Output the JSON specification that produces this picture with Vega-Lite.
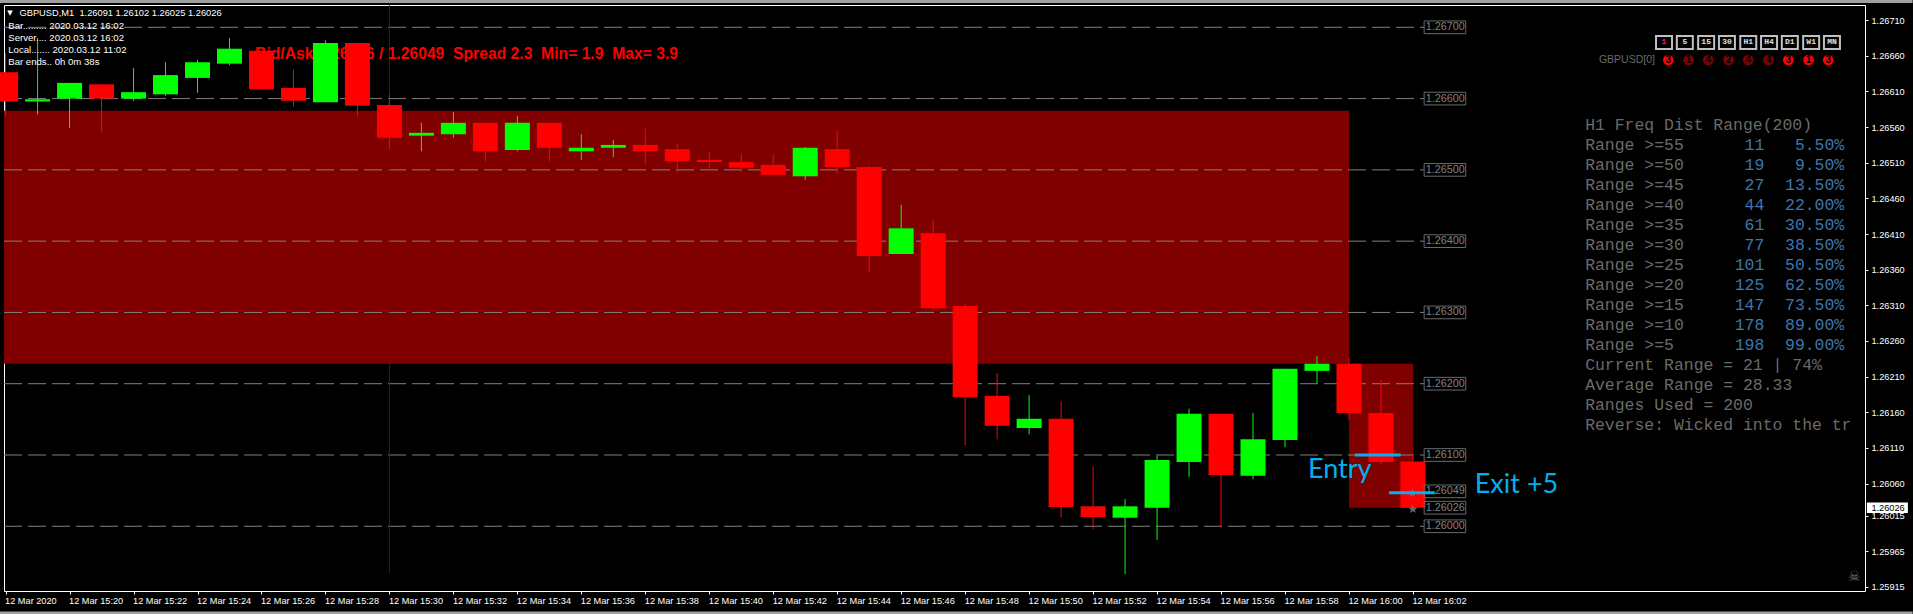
{
"$schema":"https://vega.github.io/schema/vega-lite/v6.json",
"width":1861,"height":586,
"autosize":{"type":"none"},
"padding":{"left":4,"top":5,"right":48,"bottom":23},
"background":"#000000",
"config":{"view":{"stroke":"#ffffff","strokeWidth":1},"text":{"font":"Liberation Sans"}},
"datasets":{
"candles":[
{"t":"2020-03-12T15:18:00Z","o":1.26637,"h":1.26664,"l":1.26576,"c":1.26596,"dir":"down"},
{"t":"2020-03-12T15:19:00Z","o":1.26596,"h":1.26685,"l":1.26578,"c":1.26599,"dir":"up"},
{"t":"2020-03-12T15:20:00Z","o":1.26600,"h":1.26622,"l":1.26559,"c":1.26622,"dir":"up"},
{"t":"2020-03-12T15:21:00Z","o":1.26620,"h":1.26620,"l":1.26553,"c":1.26600,"dir":"down"},
{"t":"2020-03-12T15:22:00Z","o":1.26600,"h":1.26643,"l":1.26597,"c":1.26609,"dir":"up"},
{"t":"2020-03-12T15:23:00Z","o":1.26606,"h":1.26651,"l":1.26604,"c":1.26633,"dir":"up"},
{"t":"2020-03-12T15:24:00Z","o":1.26629,"h":1.26654,"l":1.26608,"c":1.26651,"dir":"up"},
{"t":"2020-03-12T15:25:00Z","o":1.26649,"h":1.26685,"l":1.26647,"c":1.26670,"dir":"up"},
{"t":"2020-03-12T15:26:00Z","o":1.26667,"h":1.26667,"l":1.26613,"c":1.26613,"dir":"down"},
{"t":"2020-03-12T15:27:00Z","o":1.26615,"h":1.26641,"l":1.26589,"c":1.26597,"dir":"down"},
{"t":"2020-03-12T15:28:00Z","o":1.26595,"h":1.26682,"l":1.26595,"c":1.26678,"dir":"up"},
{"t":"2020-03-12T15:29:00Z","o":1.26678,"h":1.26678,"l":1.26575,"c":1.26590,"dir":"down"},
{"t":"2020-03-12T15:30:00Z","o":1.26591,"h":1.26605,"l":1.26529,"c":1.26545,"dir":"down"},
{"t":"2020-03-12T15:31:00Z","o":1.26548,"h":1.26566,"l":1.26526,"c":1.26552,"dir":"up"},
{"t":"2020-03-12T15:32:00Z","o":1.26550,"h":1.26581,"l":1.26545,"c":1.26566,"dir":"up"},
{"t":"2020-03-12T15:33:00Z","o":1.26566,"h":1.26566,"l":1.26512,"c":1.26526,"dir":"down"},
{"t":"2020-03-12T15:34:00Z","o":1.26528,"h":1.26576,"l":1.26526,"c":1.26566,"dir":"up"},
{"t":"2020-03-12T15:35:00Z","o":1.26566,"h":1.26566,"l":1.26512,"c":1.26531,"dir":"down"},
{"t":"2020-03-12T15:36:00Z","o":1.26526,"h":1.26550,"l":1.26514,"c":1.26531,"dir":"up"},
{"t":"2020-03-12T15:37:00Z","o":1.26531,"h":1.26542,"l":1.26518,"c":1.26535,"dir":"up"},
{"t":"2020-03-12T15:38:00Z","o":1.26535,"h":1.26558,"l":1.26508,"c":1.26526,"dir":"down"},
{"t":"2020-03-12T15:39:00Z","o":1.26529,"h":1.26536,"l":1.26497,"c":1.26512,"dir":"down"},
{"t":"2020-03-12T15:40:00Z","o":1.26514,"h":1.26525,"l":1.26498,"c":1.26511,"dir":"down"},
{"t":"2020-03-12T15:41:00Z","o":1.26511,"h":1.26523,"l":1.26497,"c":1.26503,"dir":"down"},
{"t":"2020-03-12T15:42:00Z","o":1.26507,"h":1.26521,"l":1.26493,"c":1.26493,"dir":"down"},
{"t":"2020-03-12T15:43:00Z","o":1.26491,"h":1.26532,"l":1.26486,"c":1.26531,"dir":"up"},
{"t":"2020-03-12T15:44:00Z","o":1.26529,"h":1.26555,"l":1.26494,"c":1.26504,"dir":"down"},
{"t":"2020-03-12T15:45:00Z","o":1.26504,"h":1.26506,"l":1.26357,"c":1.26379,"dir":"down"},
{"t":"2020-03-12T15:46:00Z","o":1.26382,"h":1.26451,"l":1.26382,"c":1.26418,"dir":"up"},
{"t":"2020-03-12T15:47:00Z","o":1.26411,"h":1.26430,"l":1.26303,"c":1.26306,"dir":"down"},
{"t":"2020-03-12T15:48:00Z","o":1.26309,"h":1.26312,"l":1.26114,"c":1.26181,"dir":"down"},
{"t":"2020-03-12T15:49:00Z","o":1.26183,"h":1.26215,"l":1.26122,"c":1.26141,"dir":"down"},
{"t":"2020-03-12T15:50:00Z","o":1.26138,"h":1.26184,"l":1.26129,"c":1.26151,"dir":"up"},
{"t":"2020-03-12T15:51:00Z","o":1.26151,"h":1.26176,"l":1.26013,"c":1.26027,"dir":"down"},
{"t":"2020-03-12T15:52:00Z","o":1.26028,"h":1.26084,"l":1.25996,"c":1.26013,"dir":"down"},
{"t":"2020-03-12T15:53:00Z","o":1.26012,"h":1.26038,"l":1.25933,"c":1.26028,"dir":"up"},
{"t":"2020-03-12T15:54:00Z","o":1.26026,"h":1.26099,"l":1.25981,"c":1.26093,"dir":"up"},
{"t":"2020-03-12T15:55:00Z","o":1.26090,"h":1.26165,"l":1.26069,"c":1.26158,"dir":"up"},
{"t":"2020-03-12T15:56:00Z","o":1.26158,"h":1.26158,"l":1.25998,"c":1.26072,"dir":"down"},
{"t":"2020-03-12T15:57:00Z","o":1.26071,"h":1.26159,"l":1.26066,"c":1.26122,"dir":"up"},
{"t":"2020-03-12T15:58:00Z","o":1.26121,"h":1.26221,"l":1.26111,"c":1.26221,"dir":"up"},
{"t":"2020-03-12T15:59:00Z","o":1.26218,"h":1.26239,"l":1.26201,"c":1.26228,"dir":"up"},
{"t":"2020-03-12T16:00:00Z","o":1.26228,"h":1.26236,"l":1.26149,"c":1.26159,"dir":"down"},
{"t":"2020-03-12T16:01:00Z","o":1.26159,"h":1.26205,"l":1.26087,"c":1.26090,"dir":"down"},
{"t":"2020-03-12T16:02:00Z","o":1.26091,"h":1.26102,"l":1.26025,"c":1.26026,"dir":"down"}
],
"zones":[
{"t":"2020-03-12T15:17:57Z","t2":"2020-03-12T16:00:00Z","p":1.26583,"p2":1.26228},
{"t":"2020-03-12T16:00:00Z","t2":"2020-03-12T16:02:00Z","p":1.26228,"p2":1.26026}
],
"grid":[
{"t":"2020-03-12T15:17:57Z","t2":"2020-03-12T16:02:21Z","p":1.26},
{"t":"2020-03-12T15:17:57Z","t2":"2020-03-12T16:02:21Z","p":1.261},
{"t":"2020-03-12T15:17:57Z","t2":"2020-03-12T16:02:21Z","p":1.262},
{"t":"2020-03-12T15:17:57Z","t2":"2020-03-12T16:02:21Z","p":1.263},
{"t":"2020-03-12T15:17:57Z","t2":"2020-03-12T16:02:21Z","p":1.264},
{"t":"2020-03-12T15:17:57Z","t2":"2020-03-12T16:02:21Z","p":1.265},
{"t":"2020-03-12T15:17:57Z","t2":"2020-03-12T16:02:21Z","p":1.266},
{"t":"2020-03-12T15:17:57Z","t2":"2020-03-12T16:02:21Z","p":1.267}
],
"boxes":[
{"t":"2020-03-12T16:02:21Z","t2":"2020-03-12T16:03:39Z","tx":"2020-03-12T16:02:24Z","m":1.26,"p":1.260089,"p2":1.259911,"text":"1.26000"},
{"t":"2020-03-12T16:02:21Z","t2":"2020-03-12T16:03:39Z","tx":"2020-03-12T16:02:24Z","m":1.26026,"p":1.260349,"p2":1.260171,"text":"1.26026"},
{"t":"2020-03-12T16:02:21Z","t2":"2020-03-12T16:03:39Z","tx":"2020-03-12T16:02:24Z","m":1.26049,"p":1.260579,"p2":1.260401,"text":"1.26049"},
{"t":"2020-03-12T16:02:21Z","t2":"2020-03-12T16:03:39Z","tx":"2020-03-12T16:02:24Z","m":1.261,"p":1.261089,"p2":1.260911,"text":"1.26100"},
{"t":"2020-03-12T16:02:21Z","t2":"2020-03-12T16:03:39Z","tx":"2020-03-12T16:02:24Z","m":1.262,"p":1.262089,"p2":1.261911,"text":"1.26200"},
{"t":"2020-03-12T16:02:21Z","t2":"2020-03-12T16:03:39Z","tx":"2020-03-12T16:02:24Z","m":1.263,"p":1.263089,"p2":1.262911,"text":"1.26300"},
{"t":"2020-03-12T16:02:21Z","t2":"2020-03-12T16:03:39Z","tx":"2020-03-12T16:02:24Z","m":1.264,"p":1.264089,"p2":1.263911,"text":"1.26400"},
{"t":"2020-03-12T16:02:21Z","t2":"2020-03-12T16:03:39Z","tx":"2020-03-12T16:02:24Z","m":1.265,"p":1.265089,"p2":1.264911,"text":"1.26500"},
{"t":"2020-03-12T16:02:21Z","t2":"2020-03-12T16:03:39Z","tx":"2020-03-12T16:02:24Z","m":1.266,"p":1.266089,"p2":1.265911,"text":"1.26600"},
{"t":"2020-03-12T16:02:21Z","t2":"2020-03-12T16:03:39Z","tx":"2020-03-12T16:02:24Z","m":1.267,"p":1.267089,"p2":1.266911,"text":"1.26700"}
],
"panelText":[
{"t":"2020-03-12T16:07:23Z","p":1.265634,"text":"H1 Freq Dist Range(200)"},
{"t":"2020-03-12T16:07:23Z","p":1.265353,"text":"Range >=55"},
{"t":"2020-03-12T16:07:23Z","p":1.265073,"text":"Range >=50"},
{"t":"2020-03-12T16:07:23Z","p":1.264792,"text":"Range >=45"},
{"t":"2020-03-12T16:07:23Z","p":1.264512,"text":"Range >=40"},
{"t":"2020-03-12T16:07:23Z","p":1.264231,"text":"Range >=35"},
{"t":"2020-03-12T16:07:23Z","p":1.263951,"text":"Range >=30"},
{"t":"2020-03-12T16:07:23Z","p":1.26367,"text":"Range >=25"},
{"t":"2020-03-12T16:07:23Z","p":1.26339,"text":"Range >=20"},
{"t":"2020-03-12T16:07:23Z","p":1.263109,"text":"Range >=15"},
{"t":"2020-03-12T16:07:23Z","p":1.262828,"text":"Range >=10"},
{"t":"2020-03-12T16:07:23Z","p":1.262548,"text":"Range >=5"},
{"t":"2020-03-12T16:07:23Z","p":1.262267,"text":"Current Range = 21 | 74%"},
{"t":"2020-03-12T16:07:23Z","p":1.261987,"text":"Average Range = 28.33"},
{"t":"2020-03-12T16:07:23Z","p":1.261706,"text":"Ranges Used = 200"},
{"t":"2020-03-12T16:07:23Z","p":1.261426,"text":"Reverse: Wicked into the tr"}
],
"panelCounts":[
{"t":"2020-03-12T16:12:59Z","p":1.265353,"text":"11"},
{"t":"2020-03-12T16:12:59Z","p":1.265073,"text":"19"},
{"t":"2020-03-12T16:12:59Z","p":1.264792,"text":"27"},
{"t":"2020-03-12T16:12:59Z","p":1.264512,"text":"44"},
{"t":"2020-03-12T16:12:59Z","p":1.264231,"text":"61"},
{"t":"2020-03-12T16:12:59Z","p":1.263951,"text":"77"},
{"t":"2020-03-12T16:12:59Z","p":1.26367,"text":"101"},
{"t":"2020-03-12T16:12:59Z","p":1.26339,"text":"125"},
{"t":"2020-03-12T16:12:59Z","p":1.263109,"text":"147"},
{"t":"2020-03-12T16:12:59Z","p":1.262828,"text":"178"},
{"t":"2020-03-12T16:12:59Z","p":1.262548,"text":"198"}
],
"panelPcts":[
{"t":"2020-03-12T16:15:29Z","p":1.265353,"text":"5.50%"},
{"t":"2020-03-12T16:15:29Z","p":1.265073,"text":"9.50%"},
{"t":"2020-03-12T16:15:29Z","p":1.264792,"text":"13.50%"},
{"t":"2020-03-12T16:15:29Z","p":1.264512,"text":"22.00%"},
{"t":"2020-03-12T16:15:29Z","p":1.264231,"text":"30.50%"},
{"t":"2020-03-12T16:15:29Z","p":1.263951,"text":"38.50%"},
{"t":"2020-03-12T16:15:29Z","p":1.26367,"text":"50.50%"},
{"t":"2020-03-12T16:15:29Z","p":1.26339,"text":"62.50%"},
{"t":"2020-03-12T16:15:29Z","p":1.263109,"text":"73.50%"},
{"t":"2020-03-12T16:15:29Z","p":1.262828,"text":"89.00%"},
{"t":"2020-03-12T16:15:29Z","p":1.262548,"text":"99.00%"}
],
"timeframes":[
{"t":"2020-03-12T16:09:36Z","t2":"2020-03-12T16:10:06Z","tx":"2020-03-12T16:09:51Z","text":"1","p":1.266696,"p2":1.266878,"m":1.266787},
{"t":"2020-03-12T16:10:15Z","t2":"2020-03-12T16:10:45Z","tx":"2020-03-12T16:10:30Z","text":"5","p":1.266696,"p2":1.266878,"m":1.266787},
{"t":"2020-03-12T16:10:55Z","t2":"2020-03-12T16:11:25Z","tx":"2020-03-12T16:11:10Z","text":"15","p":1.266696,"p2":1.266878,"m":1.266787},
{"t":"2020-03-12T16:11:34Z","t2":"2020-03-12T16:12:04Z","tx":"2020-03-12T16:11:49Z","text":"30","p":1.266696,"p2":1.266878,"m":1.266787},
{"t":"2020-03-12T16:12:14Z","t2":"2020-03-12T16:12:44Z","tx":"2020-03-12T16:12:29Z","text":"H1","p":1.266696,"p2":1.266878,"m":1.266787},
{"t":"2020-03-12T16:12:53Z","t2":"2020-03-12T16:13:23Z","tx":"2020-03-12T16:13:08Z","text":"H4","p":1.266696,"p2":1.266878,"m":1.266787},
{"t":"2020-03-12T16:13:32Z","t2":"2020-03-12T16:14:02Z","tx":"2020-03-12T16:13:47Z","text":"D1","p":1.266696,"p2":1.266878,"m":1.266787},
{"t":"2020-03-12T16:14:12Z","t2":"2020-03-12T16:14:42Z","tx":"2020-03-12T16:14:27Z","text":"W1","p":1.266696,"p2":1.266878,"m":1.266787},
{"t":"2020-03-12T16:14:51Z","t2":"2020-03-12T16:15:21Z","tx":"2020-03-12T16:15:06Z","text":"MN","p":1.266696,"p2":1.266878,"m":1.266787}
],
"signals":[
{"t":"2020-03-12T16:09:59Z","p":1.266541,"text":"3","dir":"strong"},
{"t":"2020-03-12T16:10:37Z","p":1.266541,"text":"1","dir":"weak"},
{"t":"2020-03-12T16:11:14Z","p":1.266541,"text":"4","dir":"weak"},
{"t":"2020-03-12T16:11:52Z","p":1.266541,"text":"2","dir":"weak"},
{"t":"2020-03-12T16:12:29Z","p":1.266541,"text":"4","dir":"weak"},
{"t":"2020-03-12T16:13:07Z","p":1.266541,"text":"4","dir":"weak"},
{"t":"2020-03-12T16:13:44Z","p":1.266541,"text":"3","dir":"strong"},
{"t":"2020-03-12T16:14:22Z","p":1.266541,"text":"1","dir":"strong"},
{"t":"2020-03-12T16:14:59Z","p":1.266541,"text":"3","dir":"strong"}
]
},
"encoding":{
"x":{"field":"t","type":"temporal","title":null,
 "scale":{"type":"utc","domain":["2020-03-12T15:17:57Z","2020-03-12T16:16:08Z"],"nice":false,"padding":0},
 "axis":{"values":["2020-03-12T15:18:00Z","2020-03-12T15:20:00Z","2020-03-12T15:22:00Z","2020-03-12T15:24:00Z","2020-03-12T15:26:00Z","2020-03-12T15:28:00Z","2020-03-12T15:30:00Z","2020-03-12T15:32:00Z","2020-03-12T15:34:00Z","2020-03-12T15:36:00Z","2020-03-12T15:38:00Z","2020-03-12T15:40:00Z","2020-03-12T15:42:00Z","2020-03-12T15:44:00Z","2020-03-12T15:46:00Z","2020-03-12T15:48:00Z","2020-03-12T15:50:00Z","2020-03-12T15:52:00Z","2020-03-12T15:54:00Z","2020-03-12T15:56:00Z","2020-03-12T15:58:00Z","2020-03-12T16:00:00Z","2020-03-12T16:02:00Z"],
 "labelExpr":"utcminutes(datum.value)==18 ? '12 Mar 2020' : utcFormat(datum.value,'%d %b %H:%M')",
 "grid":false,"domain":false,"tickColor":"#ffffff","tickSize":3,"tickWidth":1,"labelColor":"#ffffff","labelFont":"Liberation Sans","labelFontSize":9.2,"labelAlign":"left","labelPadding":2,"labelOverlap":false,"labelFlush":false,"labelBound":false,"labelAngle":0,"labelOffset":-1}},
"y":{"field":"p","type":"quantitative","title":null,
 "scale":{"domain":[1.259092,1.267313],"nice":false,"zero":false,"padding":0},
 "axis":{"orient":"right","values":[1.25915,1.25965,1.26015,1.2606,1.2611,1.2616,1.2621,1.2626,1.2631,1.2636,1.2641,1.2646,1.2651,1.2656,1.2661,1.2666,1.2671],
 "format":".5f","grid":false,"domain":false,"tickColor":"#ffffff","tickSize":3,"labelColor":"#ffffff","labelFont":"Liberation Sans","labelFontSize":9.2,"labelPadding":3,"labelOverlap":false,"labelFlush":false,"labelBound":false}}
},
"layer":[
{"data":{"values":[{"t":"2020-03-12T15:47:43Z","p":1.267362},{"t":"2020-03-12T15:47:43Z","p":1.258784}]},
 "mark":{"type":"rect","color":"#a0a0a0","width":1913,"height":3,"clip":false}},
{"data":{"name":"zones"},"mark":{"type":"rect","color":"#800000"},"encoding":{"x2":{"field":"t2"},"y2":{"field":"p2"}}},
{"data":{"name":"grid"},"mark":{"type":"rule","color":"#808080","strokeWidth":1,"strokeDash":[18,6]},"encoding":{"x2":{"field":"t2"}}},
{"data":{"values":[{"t":"2020-03-12T15:30:00Z","p":1.26731,"p2":1.25934}]},"mark":{"type":"rule","color":"#800000","strokeWidth":1},"encoding":{"y2":{"field":"p2"}}},
{"data":{"values":[{"t":"2020-03-12T15:25:48Z","p":1.266625,"text":"Bid/Ask 1.26026 / 1.26049\u00a0 Spread 2.3\u00a0 Min= 1.9\u00a0 Max= 3.9"}]},
 "mark":{"type":"text","align":"left","baseline":"middle","font":"Liberation Sans","fontWeight":"bold","fontSize":15.7,"color":"#ff0000"},"encoding":{"text":{"field":"text"}}},
{"data":{"name":"candles"},"mark":{"type":"rule","strokeWidth":1},
 "encoding":{"y":{"field":"l","type":"quantitative","title":null},"y2":{"field":"h"},
 "color":{"field":"dir","type":"nominal","scale":{"domain":["up","down","strong","weak"],"range":["#00ff00","#ff0000","#ff0000","#800000"]},"legend":null}}},
{"data":{"name":"candles"},"mark":{"type":"bar","size":25},
 "encoding":{"y":{"field":"o","type":"quantitative","title":null},"y2":{"field":"c"},
 "color":{"field":"dir","type":"nominal","scale":{"domain":["up","down","strong","weak"],"range":["#00ff00","#ff0000","#ff0000","#800000"]},"legend":null}}},
{"data":{"name":"boxes"},"mark":{"type":"rect","fillOpacity":0,"stroke":"#6a6a6a","strokeWidth":1},"encoding":{"x2":{"field":"t2"},"y2":{"field":"p2"}}},
{"data":{"name":"boxes"},"mark":{"type":"text","align":"left","baseline":"middle","font":"Liberation Sans","fontSize":10.8,"color":"#808080"},
 "encoding":{"x":{"field":"tx","type":"temporal","title":null},"y":{"field":"m","type":"quantitative","title":null},"text":{"field":"text"}}},
{"data":{"values":[{"t":"2020-03-12T16:02:00Z","p":1.26047,"text":"★"},{"t":"2020-03-12T16:02:00Z","p":1.26024,"text":"★"}]},
 "mark":{"type":"text","align":"center","baseline":"middle","font":"DejaVu Sans","fontSize":12,"color":"#6a6a6a"},"encoding":{"text":{"field":"text"}}},
{"data":{"values":[{"t":"2020-03-12T16:00:11Z","t2":"2020-03-12T16:01:37Z","p":1.261},{"t":"2020-03-12T16:01:15Z","t2":"2020-03-12T16:02:41Z","p":1.26047}]},
 "mark":{"type":"rule","color":"#00b0f0","strokeWidth":3},"encoding":{"x2":{"field":"t2"}}},
{"data":{"values":[{"t":"2020-03-12T15:58:43Z","p":1.26079,"text":"Entry"},{"t":"2020-03-12T16:03:56Z","p":1.26058,"text":"Exit +5"}]},
 "mark":{"type":"text","align":"left","baseline":"middle","font":"Lato","fontSize":27,"color":"#00b0f0"},"encoding":{"text":{"field":"text"}}},
{"data":{"values":[{"t":"2020-03-12T15:18:03Z","p":1.267205,"text":"▼"}]},"mark":{"type":"text","align":"left","baseline":"middle","font":"DejaVu Sans","fontSize":7,"color":"#ffffff"},"encoding":{"text":{"field":"text"}}},
{"data":{"values":[{"t":"2020-03-12T15:18:26Z","p":1.267205,"text":"GBPUSD,M1\u00a0 1.26091 1.26102 1.26025 1.26026"}]},
 "mark":{"type":"text","align":"left","baseline":"middle","font":"Liberation Sans","fontSize":9.3,"color":"#ffffff"},"encoding":{"text":{"field":"text"}}},
{"data":{"values":[
 {"t":"2020-03-12T15:18:05Z","p":1.267022,"text":"Bar......... 2020.03.12 16:02"},
 {"t":"2020-03-12T15:18:05Z","p":1.266854,"text":"Server.... 2020.03.12 16:02"},
 {"t":"2020-03-12T15:18:05Z","p":1.266686,"text":"Local....... 2020.03.12 11:02"},
 {"t":"2020-03-12T15:18:05Z","p":1.266517,"text":"Bar ends.. 0h 0m 38s"}]},
 "mark":{"type":"text","align":"left","baseline":"middle","font":"Liberation Sans","fontSize":9.6,"color":"#ffffff"},"encoding":{"text":{"field":"text"}}},
{"data":{"name":"panelText"},"mark":{"type":"text","align":"left","baseline":"middle","font":"Liberation Mono","fontSize":16.45,"color":"#6a6a6a"},"encoding":{"text":{"field":"text"}}},
{"data":{"name":"panelCounts"},"mark":{"type":"text","align":"right","baseline":"middle","font":"Liberation Mono","fontSize":16.45,"color":"#3d76b0"},"encoding":{"text":{"field":"text"}}},
{"data":{"name":"panelPcts"},"mark":{"type":"text","align":"right","baseline":"middle","font":"Liberation Mono","fontSize":16.45,"color":"#3d76b0"},"encoding":{"text":{"field":"text"}}},
{"data":{"name":"timeframes"},"mark":{"type":"rect","fillOpacity":0,"stroke":"#c0c0c0","strokeWidth":2},"encoding":{"x2":{"field":"t2"},"y2":{"field":"p2"}}},
{"data":{"name":"timeframes"},"mark":{"type":"text","align":"center","baseline":"middle","font":"Liberation Mono","fontWeight":"bold","fontSize":8},
 "encoding":{"x":{"field":"tx","type":"temporal","title":null},"y":{"field":"m","type":"quantitative","title":null},"text":{"field":"text"},"color":{"condition":{"test":"datum.text==='1'","value":"#ff00ff"},"value":"#e0e0e0"}}},
{"data":{"values":[{"t":"2020-03-12T16:09:34Z","p":1.266541,"text":"GBPUSD[0]"}]},"mark":{"type":"text","align":"right","baseline":"middle","font":"Liberation Sans","fontSize":10.5,"color":"#6a6a6a"},"encoding":{"text":{"field":"text"}}},
{"data":{"name":"signals"},"mark":{"type":"point","filled":true,"shape":"circle","size":113,"opacity":1},
 "encoding":{"color":{"field":"dir","type":"nominal","scale":{"domain":["up","down","strong","weak"],"range":["#00ff00","#ff0000","#ff0000","#800000"]},"legend":null}}},
{"data":{"name":"signals"},"mark":{"type":"text","align":"center","baseline":"middle","font":"Liberation Sans","fontWeight":"bold","fontSize":10,"color":"#000000"},"encoding":{"text":{"field":"text"}}},
{"data":{"values":[{"t":"2020-03-12T16:15:48Z","p":1.25929,"text":"☠"}]},"mark":{"type":"text","align":"center","baseline":"middle","font":"DejaVu Sans","fontSize":14,"color":"#777777"},"encoding":{"text":{"field":"text"}}},
{"data":{"values":[{"t":"2020-03-12T16:16:50Z","p":1.26026}]},"mark":{"type":"rect","color":"#ffffff","width":41,"height":10.6,"clip":false}},
{"data":{"values":[{"t":"2020-03-12T16:16:20Z","p":1.26026,"text":"1.26026"}]},"mark":{"type":"text","align":"left","baseline":"middle","font":"Liberation Sans","fontSize":9.2,"color":"#000000","clip":false},"encoding":{"text":{"field":"text"}}}
]
}
